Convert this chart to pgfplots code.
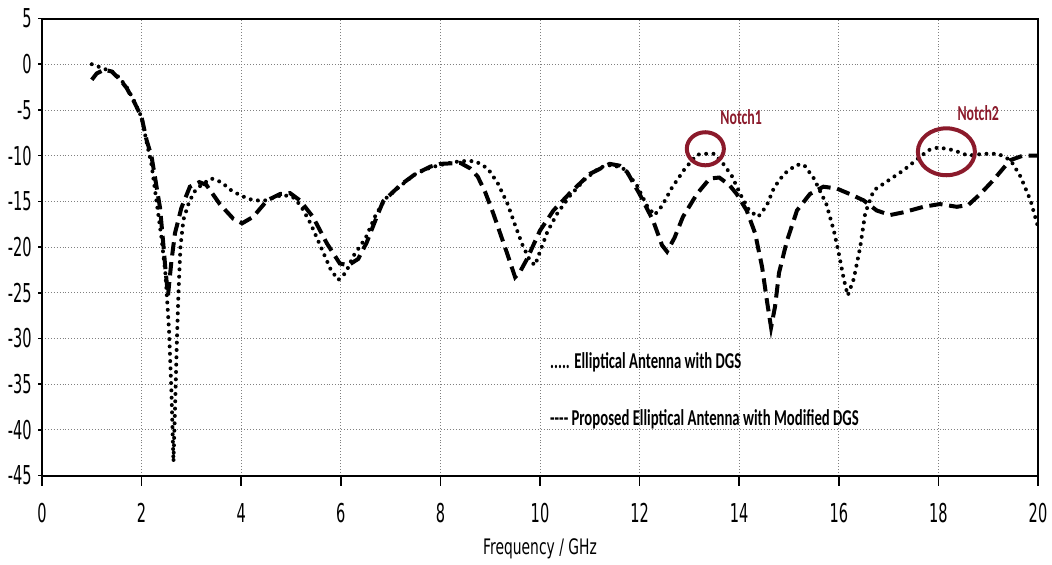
\documentclass[border=0pt]{standalone}
\usepackage{fontspec}
\usepackage{pgfplots}
\pgfplotsset{compat=1.18}
\usetikzlibrary{calc}
\newfontfamily\tickfont{DejaVu Sans}[FakeStretch=0.56]
\newfontfamily\labelfont{DejaVu Sans}[FakeStretch=0.65]
\newfontfamily\notefont{Carlito}[FakeStretch=0.65]
\definecolor{notchred}{HTML}{8B1A2B}

% Reflection coefficient S11 (dB) versus frequency (GHz)
\pgfplotstableread{
f s11
1.00 -1.7
1.10 -1.0
1.25 -0.6
1.40 -0.8
1.57 -1.7
1.70 -2.6
1.83 -3.9
2.00 -5.8
2.10 -8.3
2.20 -10.1
2.30 -13.4
2.37 -15.7
2.43 -19.3
2.48 -22.5
2.53 -25.3
2.60 -21.5
2.67 -18.5
2.80 -15.7
2.97 -13.4
3.16 -12.9
3.30 -13.2
3.57 -15.3
3.84 -16.9
4.02 -17.4
4.24 -16.7
4.52 -14.9
4.78 -14.2
4.98 -14.1
5.18 -14.9
5.44 -16.7
5.72 -19.6
5.98 -21.8
6.15 -22.0
6.35 -21.3
6.52 -19.5
6.70 -17.0
6.85 -15.0
7.20 -13.2
7.50 -12.0
7.80 -11.2
8.00 -10.9
8.40 -10.8
8.60 -11.4
8.75 -12.3
8.90 -14.0
9.06 -16.3
9.20 -18.5
9.34 -20.7
9.50 -23.3
9.60 -22.7
9.74 -21.3
10.00 -18.2
10.27 -16.0
10.60 -14.1
11.00 -12.0
11.40 -10.9
11.60 -11.1
11.75 -11.8
12.00 -14.2
12.27 -17.1
12.45 -19.8
12.55 -20.5
12.70 -19.0
12.87 -16.7
13.15 -14.2
13.41 -12.5
13.60 -12.4
13.80 -13.2
13.95 -14.2
14.15 -16.0
14.32 -18.5
14.46 -22.2
14.56 -26.0
14.64 -28.8
14.72 -26.5
14.80 -22.8
14.96 -19.3
15.16 -16.0
15.42 -14.2
15.69 -13.4
15.96 -13.6
16.22 -14.2
16.50 -14.9
16.76 -16.0
17.03 -16.5
17.30 -16.2
17.70 -15.6
18.03 -15.3
18.37 -15.6
18.60 -15.4
18.84 -14.2
19.10 -12.7
19.44 -10.5
19.70 -10.0
20.00 -10.0
}\proposed

\pgfplotstableread{
f s11
1.00 0.0
1.15 -0.3
1.30 -0.6
1.45 -0.9
1.57 -1.6
1.70 -2.5
1.83 -3.8
2.00 -5.8
2.10 -8.5
2.20 -11.0
2.30 -15.0
2.40 -19.0
2.48 -23.0
2.55 -29.0
2.60 -36.0
2.64 -43.5
2.68 -36.0
2.71 -30.0
2.74 -25.0
2.78 -20.0
2.84 -17.0
2.94 -15.3
3.05 -14.0
3.20 -13.2
3.40 -12.5
3.60 -12.9
3.80 -13.8
4.00 -14.4
4.25 -14.9
4.50 -14.9
4.70 -14.5
4.85 -14.3
5.05 -14.6
5.20 -15.5
5.40 -17.5
5.60 -20.0
5.80 -22.5
5.95 -23.6
6.10 -22.8
6.25 -21.0
6.50 -19.0
6.70 -16.5
6.90 -14.7
7.20 -13.3
7.50 -12.0
7.80 -11.3
8.10 -10.9
8.40 -10.6
8.70 -10.6
8.95 -11.4
9.15 -13.0
9.35 -15.3
9.50 -17.6
9.65 -19.8
9.80 -21.5
9.90 -22.0
10.00 -20.5
10.15 -18.3
10.35 -16.3
10.60 -14.4
10.90 -12.6
11.20 -11.3
11.45 -11.0
11.70 -11.5
11.95 -13.3
12.15 -15.5
12.30 -16.5
12.45 -15.5
12.65 -13.5
12.90 -11.5
13.15 -9.9
13.30 -9.8
13.50 -9.8
13.68 -10.9
13.85 -12.2
14.02 -14.2
14.20 -16.0
14.38 -16.7
14.55 -15.5
14.70 -13.5
14.90 -12.0
15.15 -11.0
15.30 -11.0
15.50 -12.5
15.75 -15.3
15.90 -18.2
16.00 -20.7
16.10 -23.5
16.18 -25.3
16.30 -23.5
16.43 -20.0
16.53 -16.3
16.70 -13.8
17.00 -12.7
17.30 -11.6
17.55 -10.5
17.80 -9.4
18.00 -9.1
18.30 -9.4
18.60 -10.0
18.90 -9.8
19.20 -9.8
19.45 -10.5
19.65 -12.3
19.85 -14.9
20.00 -17.8
}\withdgs

\begin{document}
\begin{tikzpicture}
\begin{axis}[
  scale only axis,
  width=747pt, height=342.75pt,
  xmin=0, xmax=20, ymin=-45, ymax=5,
  xtick={0,2,...,20}, ytick={-45,-40,...,5},
  axis line style={line width=1.5pt},
  grid=major,
  grid style={gray, line width=0.6pt, dash pattern=on 0.6pt off 1.6pt},
  tick align=outside,
  xtick pos=bottom, ytick pos=left,
  major tick length=7.5pt,
  xtick style={black, line width=1.2pt},
  ytick style={draw=none},
  /pgf/number format/assume math mode=true,
  ticklabel style={font=\tickfont\fontsize{19.5}{21}\selectfont, inner sep=1pt},
  xticklabel style={yshift=-12pt},
  yticklabel style={xshift=1pt},
  xlabel={Frequency / GHz},
  xlabel style={font=\labelfont\fontsize{16}{18}\selectfont, at={(rel axis cs:0.5,0)}, anchor=center, yshift=-55pt},
]
\addplot[black, line width=3pt, line cap=round, dash pattern=on 0pt off 5.5pt] table[x=f, y=s11] {\withdgs};
\addplot[black, line width=3pt, dash pattern=on 10pt off 5pt] table[x=f, y=s11] {\proposed};

\draw[notchred, line width=3pt] (axis cs:13.32,-9.25) ellipse [x radius=13.9pt, y radius=12.4pt];
\draw[notchred, line width=3pt] (axis cs:18.16,-9.58) ellipse [x radius=21.4pt, y radius=17.6pt];
\node[notchred, font=\notefont\bfseries\fontsize{16}{18}\selectfont, inner sep=0pt] at (axis cs:14.04,-5.8) {Notch1};
\node[notchred, font=\notefont\bfseries\fontsize{16}{18}\selectfont, inner sep=0pt] at (axis cs:18.8,-5.3) {Notch2};

\node[anchor=west, inner sep=0pt, font=\notefont\bfseries\fontsize{17}{19}\selectfont] at (axis cs:10.2,-32.6) {..... Elliptical Antenna with DGS};
\node[anchor=west, inner sep=0pt, font=\notefont\bfseries\fontsize{17}{19}\selectfont] at (axis cs:10.2,-38.9) {---- Proposed Elliptical Antenna with Modified DGS};

\coordinate (ll) at (rel axis cs:0,0);
\coordinate (ur) at (rel axis cs:1,1);
\end{axis}
% frame: top and right edges, and short outward ticks on the dB axis
\draw[black, line width=1.5pt] (ll|-ur) -- (ur) -- (ur|-ll);
\foreach \k in {0,...,10}{
  \draw[black, line width=1.2pt] ($(ll)!\k/10!(ll|-ur)$) -- ++(-3pt,0);
}
\pgfresetboundingbox
\path[use as bounding box] ([shift={(-31.5pt,-66.75pt)}]ll) rectangle ([shift={(10.5pt,13.9pt)}]ur);
\end{tikzpicture}
\end{document}
